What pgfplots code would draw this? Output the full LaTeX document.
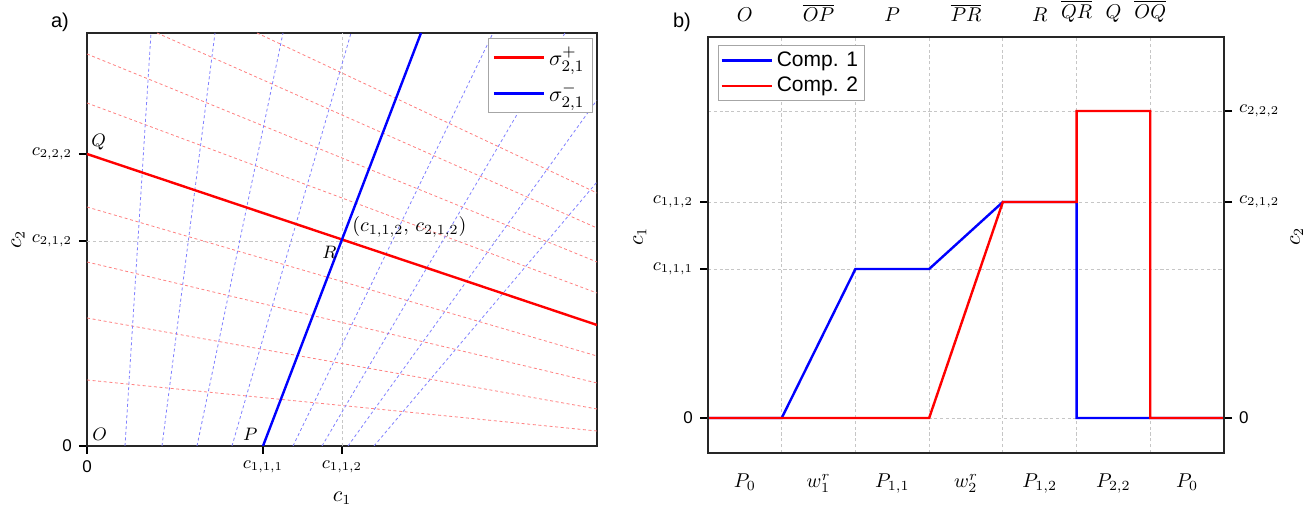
\documentclass[border=0pt]{standalone}
\usepackage[no-math]{fontspec}
\setmainfont{Liberation Sans}
\usepackage{pgfplots}
\pgfplotsset{compat=1.18}
\newcommand\zf{\fontsize{8.5}{10}\selectfont}
\begin{document}
\begin{tikzpicture}
\useasboundingbox (0,0) rectangle (654.5pt,256pt);
\pgfplotsset{
  dl/.style={line width=0.4pt, dash pattern=on 1.5pt off 1.3pt, forget plot},
  gl/.style={line width=0.4pt, gray!45, dash pattern=on 1.6pt off 1.3pt, forget plot},
  every tick label/.append style={font=\fontsize{9}{11}\selectfont},
  tick align=outside, major tick length=4pt,
  tick style={line width=0.8pt, black},
  axis line style={line width=0.8pt, black!85},
  legend image code/.code={\draw[#1] (0pt,0pt) -- (25pt,0pt);},
}
% ---------- panel a ----------
\begin{axis}[
  at={(43.5pt,33pt)}, anchor=south west, scale only axis,
  width=255pt, height=206.5pt,
  xmin=0, xmax=5.10, ymin=0, ymax=4.13,
  xtick={0,1.76,2.55}, xticklabels={{\zf 0},$c_{1{,}1{,}1}$,$c_{1{,}1{,}2}$},
  ytick={0,2.05,2.92}, yticklabels={{\zf 0},$c_{2{,}1{,}2}$,$c_{2{,}2{,}2}$},
  xtick pos=bottom, ytick pos=left,
  xlabel={$c_1$}, ylabel={$c_2$},
  xlabel style={at={(axis description cs:0.5,-0.126)}, anchor=center, font=\fontsize{10.5}{12}\selectfont},
  ylabel style={at={(axis description cs:-0.135,0.5)}, anchor=center, font=\fontsize{10.5}{12}\selectfont},
  legend style={at={(axis description cs:0.992,0.988)}, anchor=north east,
    draw=gray!70, line width=0.6pt, font=\fontsize{11}{13}\selectfont,
    inner sep=2pt, row sep=3pt, cells={anchor=west}},
]
\addplot[gl] coordinates {(2.55,0) (2.55,4.13)};
\addplot[gl] coordinates {(0,2.05) (5.10,2.05)};
% red dashed family
\addplot[dl, red!50] coordinates {(1.70,4.13) (5.10,2.53)};
\addplot[dl, red!50] coordinates {(0.70,4.13) (5.10,2.18)};
\addplot[dl, red!50] coordinates {(0,3.92) (5.10,1.84)};
\addplot[dl, red!50] coordinates {(0,3.43) (5.10,1.53)};
\addplot[dl, red!50] coordinates {(0,2.39) (5.10,0.90)};
\addplot[dl, red!50] coordinates {(0,1.84) (5.10,0.63)};
\addplot[dl, red!50] coordinates {(0,1.28) (5.10,0.37)};
\addplot[dl, red!50] coordinates {(0,0.66) (5.10,0.15)};
% blue dashed family
\addplot[dl, blue!50] coordinates {(0.38,0) (0.64,4.13)};
\addplot[dl, blue!50] coordinates {(0.75,0) (1.28,4.13)};
\addplot[dl, blue!50] coordinates {(1.10,0) (1.96,4.13)};
\addplot[dl, blue!50] coordinates {(1.45,0) (2.64,4.13)};
\addplot[dl, blue!50] coordinates {(2.06,0) (4.06,4.13)};
\addplot[dl, blue!50] coordinates {(2.35,0) (4.78,4.13)};
\addplot[dl, blue!50] coordinates {(2.61,0) (5.10,3.46)};
\addplot[dl, blue!50] coordinates {(2.87,0) (5.10,2.64)};
% solid
\addplot[red, line width=1.2pt] coordinates {(0,2.92) (5.10,1.21)};
\addlegendentry{$\sigma_{2{,}1}^{+}$}
\addplot[blue, line width=1.2pt] coordinates {(1.76,0) (3.34,4.13)};
\addlegendentry{$\sigma_{2{,}1}^{-}$}
\node[anchor=south west, inner sep=2pt, font=\fontsize{9.5}{11}\selectfont] at (axis cs:0,2.92) {$Q$};
\node[anchor=north east, inner sep=2.5pt, font=\fontsize{9.5}{11}\selectfont] at (axis cs:2.55,2.05) {$R$};
\node[anchor=south west, inner sep=1.5pt, xshift=3.5pt, font=\fontsize{10}{12}\selectfont] at (axis cs:2.55,2.05) {$(c_{1{,}1{,}2},\,c_{2{,}1{,}2})$};
\node[anchor=south east, inner sep=2.5pt, font=\fontsize{9.5}{11}\selectfont] at (axis cs:1.76,0) {$P$};
\node[anchor=south west, inner sep=2.5pt, font=\fontsize{9.5}{11}\selectfont] at (axis cs:0,0) {$O$};
\end{axis}
% ---------- panel b ----------
\begin{axis}[
  at={(354pt,29.5pt)}, anchor=south west, scale only axis,
  width=258pt, height=208pt,
  xmin=0, xmax=7, ymin=-35, ymax=381,
  xtick={0.5,1.5,2.5,3.5,4.5,5.5,6.5},
  xticklabels={$P_0$,$w_1^r$,$P_{1{,}1}$,$w_2^r$,$P_{1{,}2}$,$P_{2{,}2}$,$P_0$},
  xtick pos=bottom, ytick pos=left,
  major x tick style={draw=none},
  xticklabel style={yshift=-3pt, font=\fontsize{10}{12}\selectfont},
  minor xtick={1,2,3,4,5,6}, xminorgrids,
  minor x tick style={draw=none},
  ytick={0,149,216}, yticklabels={{\zf 0},$c_{1{,}1{,}1}$,$c_{1{,}1{,}2}$},
  minor ytick={307}, yminorgrids, ymajorgrids,
  minor y tick style={draw=none},
  grid style={line width=0.4pt, gray!45, dash pattern=on 1.6pt off 1.3pt},
  minor grid style={line width=0.4pt, gray!45, dash pattern=on 1.6pt off 1.3pt},
  ylabel={$c_1$},
  ylabel style={at={(axis description cs:-0.132,0.52)}, anchor=center, font=\fontsize{10.5}{12}\selectfont},
  legend style={at={(axis description cs:0.019,0.981)}, anchor=north west,
    draw=gray!70, line width=0.6pt, font=\fontsize{10.5}{12.5}\selectfont,
    inner sep=1pt, row sep=0pt, cells={anchor=west}},
]
\addplot[blue, line width=1.2pt] coordinates {(0,0) (1,0) (2,149) (3,149) (4,216) (5,216) (5,0) (7,0)};
\addlegendentry{Comp. 1}
\addplot[red, line width=1.2pt] coordinates {(0,0) (3,0) (4,216) (5,216) (5,307) (6,307) (6,0) (7,0)};
\addlegendentry{Comp. 2}
\end{axis}
\begin{axis}[
  at={(354pt,29.5pt)}, anchor=south west, scale only axis,
  width=258pt, height=208pt,
  xmin=0, xmax=7, ymin=-35, ymax=381,
  xtick={0.5,1.5,2.5,3.5,4.5,5,5.5,6},
  xticklabels={$O$,$\overline{OP}$,$P$,$\overline{PR}$,$R$,$\overline{QR}$,$Q$,$\overline{OQ}$},
  xtick pos=top, ytick pos=right,
  major x tick style={draw=none},
  xticklabel style={font=\fontsize{10}{12}\selectfont},
  ytick={0,216,307}, yticklabels={{\zf 0},$c_{2{,}1{,}2}$,$c_{2{,}2{,}2}$},
  ylabel={$c_2$},
  ylabel style={at={(axis description cs:1.141,0.52)}, anchor=center, rotate=0, font=\fontsize{10.5}{12}\selectfont},
]
\end{axis}
\node[font=\fontsize{10}{12}\selectfont] at (30pt,245pt) {a)};
\node[font=\fontsize{10}{12}\selectfont] at (341pt,245pt) {b)};
\end{tikzpicture}
\end{document}
